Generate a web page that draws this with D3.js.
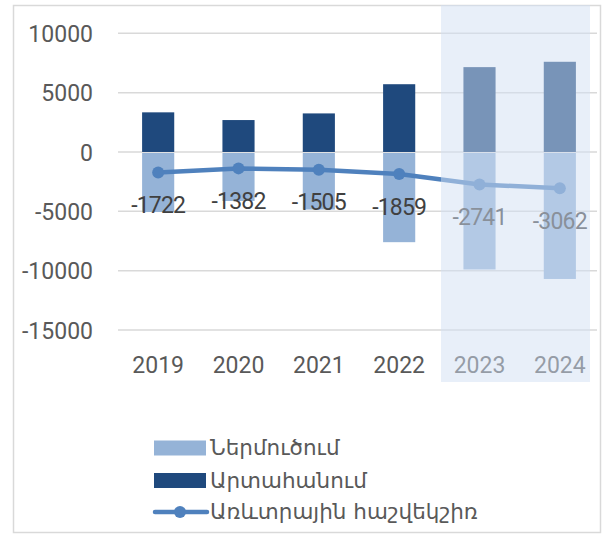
<!DOCTYPE html>
<html>
<head>
<meta charset="utf-8">
<script src="https://cdn.jsdelivr.net/npm/d3@7"></script>
<style>
  body { margin: 0; background: #fff; }
  text { font-family: Roboto, "DejaVu Sans", sans-serif; }
</style>
</head>
<body>
<div id="chart"></div>
<script>
// data
var years = ["2019", "2020", "2021", "2022", "2023", "2024"];
var imports = [-5060, -4130, -4850, -7600, -9900, -10700];   // Ներմուծում
var exports = [3340, 2690, 3250, 5710, 7150, 7600];          // Արտահանում
var balance = [-1722, -1382, -1505, -1859, -2741, -3062];     // Առևտրային հաշվեկշիռ
var yTicks = [10000, 5000, 0, -5000, -10000, -15000];
var forecastYears = ["2023", "2024"];
var legendNames = ["Ներմուծում", "Արտահանում", "Առևտրային հաշվեկշիռ"];

var W = 605, H = 534;
var plot = {left: 118, right: 600, top: 33.3, bottom: 330};

var svg = d3.select("#chart").append("svg")
    .attr("width", W)
    .attr("height", H);

// outer frame
svg.append("rect")
    .attr("x", 13.5).attr("y", 5.5)
    .attr("width", 587).attr("height", 527)
    .attr("fill", "none")
    .attr("stroke", "#d9d9d9")
    .attr("stroke-width", 1.5);

var x = d3.scaleBand()
    .domain(years)
    .range([plot.left, plot.right])
    .paddingInner(0.6)
    .paddingOuter(0.3);

var y = d3.scaleLinear()
    .domain([-15000, 10000])
    .range([plot.bottom, plot.top]);

// plain hyphen minus, no thousands separator
var fmt = d => (d < 0 ? "-" : "") + Math.abs(d);

// gridlines
svg.append("g")
    .attr("class", "grid")
    .selectAll("line")
    .data(yTicks)
    .join("line")
        .attr("x1", plot.left)
        .attr("x2", plot.right - 3)
        .attr("y1", d => y(d))
        .attr("y2", d => y(d))
        .attr("stroke", "#d9d9d9")
        .attr("stroke-width", 1.5);

// y axis
var yAxis = svg.append("g")
    .attr("transform", "translate(" + 93 + ",0)")
    .call(d3.axisLeft(y).tickValues(yTicks).tickFormat(fmt).tickSize(0).tickPadding(0));
yAxis.select(".domain").remove();
yAxis.selectAll("text")
    .attr("font-size", 23)
    .attr("fill", "#595959")
    .attr("dy", "0.36em")
    .style("font-family", "Roboto, sans-serif");

// x axis
var xAxis = svg.append("g")
    .attr("transform", "translate(0," + plot.bottom + ")")
    .call(d3.axisBottom(x).tickSize(0));
xAxis.select(".domain").remove();
xAxis.selectAll("text")
    .attr("y", 42.5)
    .attr("dy", null)
    .attr("font-size", 23)
    .attr("fill", "#595959")
    .style("font-family", "Roboto, sans-serif");

// bars
svg.append("g")
    .selectAll("rect")
    .data(years)
    .join("rect")
        .attr("x", d => x(d))
        .attr("width", x.bandwidth())
        .attr("y", (d, i) => y(exports[i]))
        .attr("height", (d, i) => y(0) - y(exports[i]))
        .attr("fill", "#1f497d");

svg.append("g")
    .selectAll("rect")
    .data(years)
    .join("rect")
        .attr("x", d => x(d))
        .attr("width", x.bandwidth())
        .attr("y", y(0) + 1)
        .attr("height", (d, i) => y(imports[i]) - y(0) - 1)
        .attr("fill", "#95b3d7");

// balance line
var cx = d => x(d) + x.bandwidth() / 2;
var line = d3.line()
    .x((d, i) => cx(years[i]))
    .y(d => y(d));

svg.append("path")
    .datum(balance)
    .attr("d", line)
    .attr("fill", "none")
    .attr("stroke", "#4f81bd")
    .attr("stroke-width", 4.5)
    .attr("stroke-linejoin", "round");

svg.append("g")
    .selectAll("circle")
    .data(balance)
    .join("circle")
        .attr("cx", (d, i) => cx(years[i]))
        .attr("cy", d => y(d))
        .attr("r", 6)
        .attr("fill", "#4f81bd");

svg.append("g")
    .selectAll("text")
    .data(balance)
    .join("text")
        .attr("x", (d, i) => cx(years[i]))
        .attr("y", d => y(d) + 40.5)
        .attr("text-anchor", "middle")
        .attr("font-size", 23)
        .attr("letter-spacing", -0.8)
        .attr("fill", "#404040")
        .text(fmt);

// forecast shading, semi-transparent over the last two years
svg.append("rect")
    .attr("x", 441)
    .attr("y", 5)
    .attr("width", 149)
    .attr("height", 377)
    .attr("fill", "rgb(209,223,243)")
    .attr("fill-opacity", 0.5);

// legend
var legend = svg.append("g")
    .attr("transform", "translate(153,0)");
var rowY = [448, 480.5, 512];

legend.append("rect")
    .attr("x", 1).attr("y", rowY[0] - 7.5)
    .attr("width", 52).attr("height", 15)
    .attr("fill", "#95b3d7");
legend.append("rect")
    .attr("x", 1).attr("y", rowY[1] - 7.5)
    .attr("width", 52).attr("height", 15)
    .attr("fill", "#1f497d");
legend.append("line")
    .attr("x1", 2).attr("x2", 54)
    .attr("y1", rowY[2]).attr("y2", rowY[2])
    .attr("stroke", "#4f81bd")
    .attr("stroke-width", 4.5)
    .attr("stroke-linecap", "round");
legend.append("circle")
    .attr("cx", 27).attr("cy", rowY[2])
    .attr("r", 6)
    .attr("fill", "#4f81bd");

legend.selectAll("text.leg")
    .data(legendNames)
    .join("text")
        .attr("class", "leg")
        .attr("x", 57)
        .attr("y", (d, i) => rowY[i] + 7)
        .attr("font-size", 21.5)
        .attr("fill", "#595959")
        .style("font-family", "\"DejaVu Sans\", sans-serif")
        .text(d => d);
</script>
</body>
</html>
